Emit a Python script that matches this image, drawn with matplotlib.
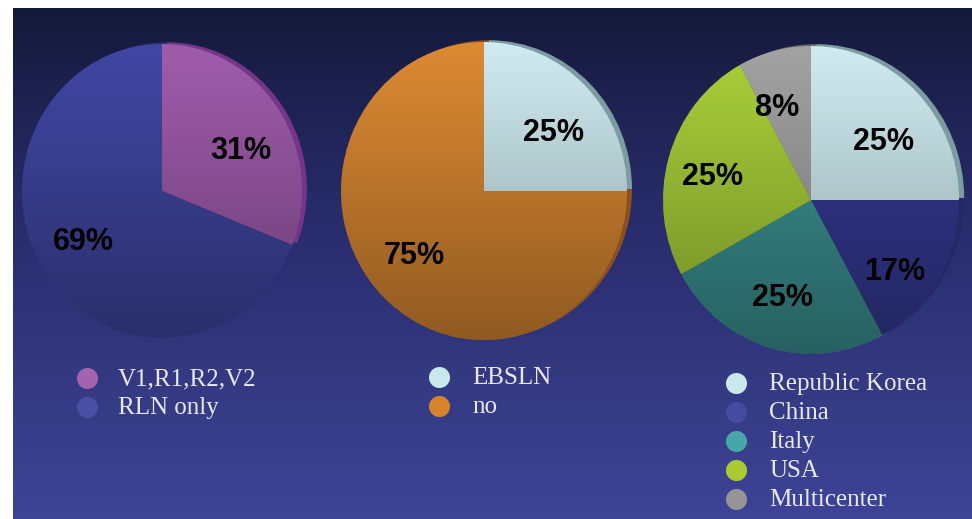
import matplotlib
matplotlib.use("Agg")
import matplotlib.pyplot as plt
import numpy as np
from matplotlib.patches import Circle
from matplotlib.colors import to_rgb

W, H = 972, 519
DPI = 100

# ---------------- data ----------------
nerve_labels = ["V1,R1,R2,V2", "RLN only"]
nerve_values = [31, 69]

ebsln_labels = ["EBSLN", "no"]
ebsln_values = [25, 75]

country_labels = ["Republic Korea", "China", "Italy", "USA", "Multicenter"]
country_values = [25, 17, 25, 25, 8]

# ---------------- styles ----------------
nerve_colors = ["#a05cac", "#4147a3"]
nerve_rim = ["#74368a", "#2a2e72"]
nerve_dots = ["#a463ae", "#4a4fa3"]

ebsln_colors = ["#d0ecf1", "#dc8a33"]
ebsln_rim = ["#7c9ca2", "#8a5020"]
ebsln_dots = ["#c8e8ec", "#d8832b"]

country_colors = ["#d0ecf1", "#363a94", "#3d9494", "#aad03a", "#a3a3a3"]
country_rim = ["#7c9ca2", "#252865", "#285e5e", "#6d8a25", "#6a6a6a"]
country_dots = ["#c8e8ec", "#464ba0", "#48a5a8", "#a8cc30", "#959595"]

# layout (pixels): pie ellipse centre and radii
pie_geom = [(162, 191, 140, 147), (484, 191, 143, 149), (811, 200, 148, 154)]
# label centre positions (pixels) for each slice
nerve_lab_pos = [(241, 151), (83, 242)]
ebsln_lab_pos = [(553, 133), (414, 256)]
country_lab_pos = [(883, 142), (895, 272), (782, 298), (712, 177), (777, 108)]
# legends: dot x, text x, first dot y, step
legend_geom = [(87, 118, 378, 29), (439, 472, 377, 29), (736, 769, 383, 29)]

fig = plt.figure(figsize=(W / DPI, H / DPI), dpi=DPI, facecolor="white")

# background gradient panel
bg = fig.add_axes([13 / W, 0, (W - 13) / W, (H - 8) / H], zorder=-10)
stops_y = np.array([0.0, 0.2, 0.45, 0.7, 1.0])
stops_c = np.array([to_rgb(c) for c in ["#151939", "#1f2353", "#2a2e6f", "#33387f", "#3e4496"]])
yy = np.linspace(0, 1, 300)
grad = np.stack([np.interp(yy, stops_y, stops_c[:, i]) for i in range(3)], axis=-1)[:, None, :]
bg.imshow(grad, aspect="auto", extent=(0, 1, 0, 1), origin="upper")
bg.set_axis_off()


def draw_pie(geom, values, colors, rims):
    cx, cy, rx, ry = geom
    ax = fig.add_axes([(cx - rx) / W, 1 - (cy + ry) / H, 2 * rx / W, 2 * ry / H])
    sw, _ = ax.pie(values, colors=rims, startangle=90, counterclock=False,
                   radius=1, center=(0.035, 0.012), wedgeprops=dict(linewidth=0))
    for w in sw:
        w.set_clip_on(False)
        w.set_zorder(1)
    wedges, _ = ax.pie(values, colors=colors, startangle=90, counterclock=False,
                       radius=1, wedgeprops=dict(linewidth=0))
    for w in wedges:
        w.set_zorder(2)
    # vertical shading overlay
    n = 256
    a = np.linspace(0, 1, n)
    shade = np.zeros((n, 1, 4))
    shade[:, 0, 3] = 0.36 * a ** 1.1
    im = ax.imshow(shade, extent=(-1.05, 1.05, -1.05, 1.05), aspect="auto",
                   origin="upper", zorder=3)
    im.set_clip_path(Circle((0, 0), 1, transform=ax.transData))
    ax.set_aspect("auto")
    ax.set_xlim(-1, 1)
    ax.set_ylim(-1, 1)
    ax.set_axis_off()
    return ax


draw_pie(pie_geom[0], nerve_values, nerve_colors, nerve_rim)
draw_pie(pie_geom[1], ebsln_values, ebsln_colors, ebsln_rim)
draw_pie(pie_geom[2], country_values, country_colors, country_rim)

# overlay in pixel coordinates for labels and legends
ov = fig.add_axes([0, 0, 1, 1], zorder=20)
ov.set_xlim(0, W)
ov.set_ylim(H, 0)
ov.set_axis_off()
ov.patch.set_alpha(0)

lab_font = dict(family=["Liberation Sans", "DejaVu Sans"], weight="bold", size=22, color="black")
for vals, poss in [(nerve_values, nerve_lab_pos), (ebsln_values, ebsln_lab_pos),
                   (country_values, country_lab_pos)]:
    for v, (x, y) in zip(vals, poss):
        ov.text(x, y, f"{v}%", ha="center", va="center", **lab_font)

leg_font = dict(family=["Liberation Serif", "DejaVu Serif"], size=18, color="#e8e8f2")
for (dx, tx, y0, step), labels, dots in zip(
        legend_geom,
        [nerve_labels, ebsln_labels, country_labels],
        [nerve_dots, ebsln_dots, country_dots]):
    for i, (lab, c) in enumerate(zip(labels, dots)):
        y = y0 + i * step
        ov.scatter([dx], [y], s=230, color=c, linewidths=0)
        ov.text(tx, y + 7, lab, ha="left", va="baseline", **leg_font)

fig.savefig("out.png", dpi=DPI, facecolor="white")
